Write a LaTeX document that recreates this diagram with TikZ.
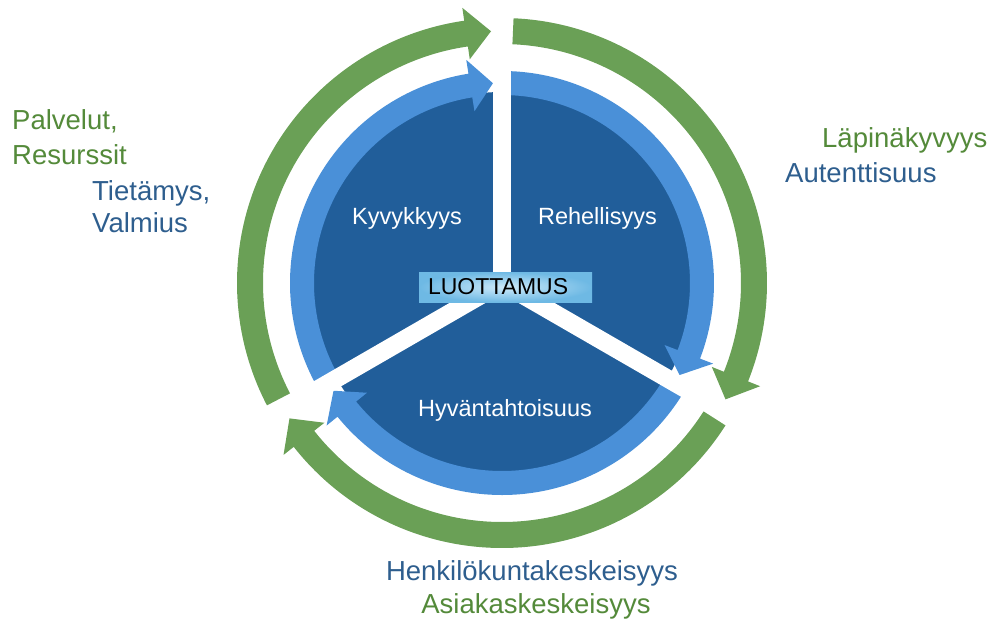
\documentclass[tikz,border=0pt]{standalone}
\usepackage{fontspec}
\setmainfont{Liberation Sans}
\usepackage{tikz}
\usetikzlibrary{positioning}

\definecolor{ringgreen}{RGB}{106,160,86}
\definecolor{ringblue}{RGB}{74,144,216}
\definecolor{diskblue}{RGB}{33,94,154}
\definecolor{txtgreen}{RGB}{84,138,58}
\definecolor{txtblue}{RGB}{46,94,142}
\definecolor{boxin}{RGB}{205,234,250}
\definecolor{boxout}{RGB}{110,185,228}

\begin{document}
\begin{tikzpicture}[x=1pt,y=1pt,
    sidelbl/.style={font=\fontsize{27.5}{32}\selectfont, inner sep=0pt},
    innerlbl/.style={font=\fontsize{23.5}{28}\selectfont, white, inner sep=0pt},
    trustbox/.style={rectangle, inner color=boxin, outer color=boxout,
        minimum height=30, inner xsep=9, inner ysep=0, text width=155,
        align=left, font=\fontsize{23}{26}\selectfont}]
        \useasboundingbox (-502,-347) rectangle (496,283);

            \fill[diskblue] (0,0) circle (191);

            % inner ring
            \foreach \s/\b/\t in {210/99.1/92.6, 90/-20.9/-27.4, -30/-140.9/-147.4}
                \fill[ringblue] (\s:212) arc[start angle=\s, end angle=\b, radius=212]
                    -- (\b:226) -- (\t:200) -- (\b:174)
                    -- (\b:188) arc[start angle=\b, end angle=\s, radius=188] -- cycle;

            \foreach \a in {90,-30,-150}
                \draw[line width=18, white] (0,0) -- (\a:216);

            % outer ring
            \foreach \s/\b/\t in {207.5/98.2/92.5, 87.5/-21.8/-27.5, -32.5/-141.8/-147.5}
                \fill[ringgreen] (\s:265) arc[start angle=\s, end angle=\b, radius=265]
                    -- (\b:278) -- (\t:252) -- (\b:226)
                    -- (\b:239) arc[start angle=\b, end angle=\s, radius=239] -- cycle;

            \node[trustbox] (trust) at (3.5,-4) {LUOTTAMUS};

            \node[innerlbl] (kyky) at (-95,65) {Kyvykkyys};
            \node[innerlbl] (rehell) at (95.5,65) {Rehellisyys};
            \node[innerlbl] (hyva) at (3,-127) {Hyväntahtoisuus};

            \node[sidelbl, txtgreen, anchor=base west] (palv) at (-490,154) {Palvelut,};
            \node[sidelbl, txtgreen, anchor=base west] (resu) at (-490,119) {Resurssit};
            \node[sidelbl, txtblue, anchor=base west] (tiet) at (-410,83) {Tietämys,};
            \node[sidelbl, txtblue, anchor=base west] (valm) at (-410,51) {Valmius};
            \node[sidelbl, txtgreen, anchor=base west] (lapi) at (320,136) {Läpinäkyvyys};
            \node[sidelbl, txtblue, anchor=base west] (aute) at (283,101) {Autenttisuus};
            \node[sidelbl, txtblue, anchor=base] (henk) at (30,-297) {Henkilökuntakeskeisyys};
            \node[sidelbl, txtgreen, anchor=base] (asia) at (34,-330) {Asiakaskeskeisyys};
        \end{tikzpicture}
\end{document}
